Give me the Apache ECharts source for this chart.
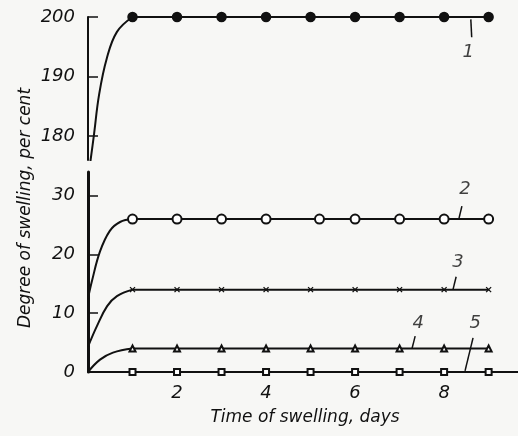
<!DOCTYPE html>
<html><head><meta charset="utf-8">
<script src="https://cdn.jsdelivr.net/npm/echarts@6/dist/echarts.min.js"></script>
<style>html,body{margin:0;padding:0;background:#f7f7f5}#c{width:518px;height:436px}</style>
</head><body><div id="c"></div><script>
// ---- data ----
const markerDays = [1, 2, 3, 4, 5, 6, 7, 8, 9];
const s2Days = [1, 2, 3, 4, 5.2, 6, 7, 8, 9];
const s1Values = [200, 200, 200, 200, 200, 200, 200, 200, 200];
const s2Values = [26, 26, 26, 26, 26, 26, 26, 26, 26];
const s3Values = [14, 14, 14, 14, 14, 14, 14, 14, 14];
const s4Values = [4, 4, 4, 4, 4, 4, 4, 4, 4];
const s5Values = [0, 0, 0, 0, 0, 0, 0, 0, 0];
// initial rise (day 0 to day 1)
const s1CurveX = [0.04, 0.13, 0.25, 0.42, 0.65, 1];
const s1CurveY = [175, 180, 187, 193, 197.5, 200];
const s2CurveX = [0, 0.09, 0.27, 0.49, 0.72, 1];
const s2CurveY = [12.5, 15.5, 20.5, 24, 25.5, 26];
const s3CurveX = [0, 0.2, 0.43, 0.65, 1];
const s3CurveY = [4.3, 7.8, 11.2, 12.9, 14];
const s4CurveX = [0, 0.27, 0.56, 1];
const s4CurveY = [0, 2.1, 3.3, 4];
// tick labels
const upperTicks = [180, 190, 200];
const lowerTicks = [0, 10, 20, 30];
const xTicks = [2, 4, 6, 8];
// curve number labels: [text, x, y, grid]
const curveLabels = [['1', 8.54, 194, 0], ['2', 8.47, 31, 1], ['3', 8.31, 18.7, 1], ['4', 7.42, 8.3, 1], ['5', 8.7, 8.3, 1]];
// leader lines: [x1, y1, x2, y2, grid]
const leaders = [[8.6, 199.6, 8.62, 196.6, 0], [8.4, 28.2, 8.33, 26.0, 1], [8.27, 16.2, 8.2, 14.0, 1], [7.35, 6.1, 7.28, 4.0, 1], [8.65, 5.8, 8.47, 0.2, 1]];
const xTitle = 'Time of swelling, days';
const yTitle = 'Degree of swelling, per cent';

const zip = (a, b) => a.map((v, i) => [v, b[i]]);
const FONT = 'DejaVu Sans';
const ink = '#111';
const BG = '#f7f7f5';
const lab = {fontFamily: FONT, fontStyle: 'italic', fontSize: 18, color: ink};
const XMAX = 9.66;

function flat(days, vals, sym, size, yIdx, extra) {
  return Object.assign({
    type: 'line', xAxisIndex: yIdx, yAxisIndex: yIdx, data: zip(days, vals),
    symbol: sym, symbolSize: size, showAllSymbol: true,
    lineStyle: {color: ink, width: 2}, itemStyle: {color: ink, borderColor: ink, borderWidth: 1.5},
    z: 3, animation: false
  }, extra || {});
}
function curve(xs, ys, idx) {
  return {type: 'line', xAxisIndex: idx, yAxisIndex: idx, data: zip(xs, ys), smooth: 0.4,
    symbol: 'none', lineStyle: {color: ink, width: 2}, animation: false, clip: true};
}

const series = [
  curve(s1CurveX, s1CurveY, 0),
  flat(markerDays, s1Values, 'circle', 9, 0, {lineStyle: {color: ink, width: 2.2}}),
  curve(s2CurveX, s2CurveY, 1),
  flat(s2Days, s2Values, 'emptyCircle', 9, 1, {itemStyle: {color: ink, borderWidth: 1.8}}),
  curve(s3CurveX, s3CurveY, 1),
  flat(markerDays, s3Values, 'path://M0,0L10,10M10,0L0,10', 5, 1, {itemStyle: {color: 'none', borderColor: ink, borderWidth: 1.3}}),
  curve(s4CurveX, s4CurveY, 1),
  flat(markerDays, s4Values, 'emptyTriangle', 6, 1, {itemStyle: {color: ink, borderWidth: 1.4}}),
  flat(markerDays, s5Values, 'emptyRect', 6, 1, {itemStyle: {color: ink, borderWidth: 1.4}})
];
// labels
curveLabels.forEach(l => {
  series.push({type: 'scatter', xAxisIndex: l[3], yAxisIndex: l[3], data: [[l[1], l[2]]], symbolSize: 0,
    label: {show: true, position: 'inside', formatter: l[0], fontFamily: FONT, fontStyle: 'italic', fontSize: 18, color: ink},
    animation: false, silent: true});
});
leaders.forEach(l => {
  series.push({type: 'line', xAxisIndex: l[4], yAxisIndex: l[4], data: [[l[0], l[1]], [l[2], l[3]]],
    symbol: 'none', lineStyle: {color: ink, width: 1.5}, animation: false, silent: true, z: 4});
});

const chart = echarts.init(document.getElementById('c'), null, {renderer: 'canvas'});
chart.setOption({
  backgroundColor: BG,
  grid: [
    {left: 88, width: 430, top: 17, height: 143},
    {left: 88, width: 430, top: 172, height: 200}
  ],
  xAxis: [
    {gridIndex: 0, type: 'value', min: 0, max: XMAX, show: false},
    {gridIndex: 1, type: 'value', min: 0, max: XMAX,
      axisLine: {show: true, lineStyle: {color: ink, width: 2}},
      axisTick: {show: false}, splitLine: {show: false},
      axisLabel: Object.assign({customValues: xTicks, margin: 12}, lab)}
  ],
  yAxis: [
    {gridIndex: 0, type: 'value', min: 176, max: 200,
      axisLine: {show: true, lineStyle: {color: ink, width: 2}},
      axisTick: {show: true, inside: true, length: 10, customValues: upperTicks, lineStyle: {color: ink, width: 1.5}},
      splitLine: {show: false},
      axisLabel: Object.assign({customValues: upperTicks, margin: 13}, lab)},
    {gridIndex: 1, type: 'value', min: 0, max: 34,
      axisLine: {show: true, lineStyle: {color: ink, width: 3}},
      axisTick: {show: true, inside: true, length: 10, customValues: [10, 20, 30], lineStyle: {color: ink, width: 1.5}},
      splitLine: {show: false},
      axisLabel: Object.assign({customValues: lowerTicks, margin: 13}, lab)}
  ],
  graphic: [
    {type: 'text', x: 305, y: 418, style: {text: xTitle, fontFamily: FONT, fontStyle: 'italic', fontSize: 17, fill: ink, align: 'center', verticalAlign: 'middle'}},
    {type: 'text', x: 26, y: 208, rotation: Math.PI / 2, style: {text: yTitle, fontFamily: FONT, fontStyle: 'italic', fontSize: 17, fill: ink, align: 'center', verticalAlign: 'middle'}}
  ],
  series: series
});
</script></body></html>
